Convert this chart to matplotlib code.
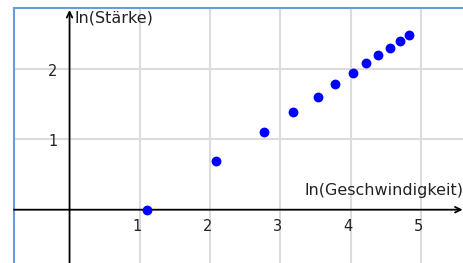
import matplotlib
matplotlib.use("Agg")
import matplotlib.pyplot as plt

# data (ln values)
ln_speed = [1.10, 2.08, 2.77, 3.18, 3.53, 3.78, 4.03, 4.21, 4.39, 4.56, 4.70, 4.83]
ln_strength = [0.00, 0.69, 1.10, 1.39, 1.61, 1.79, 1.95, 2.08, 2.20, 2.30, 2.40, 2.49]
x_ticks = [1, 2, 3, 4, 5]
y_ticks = [1, 2]
x_label = "ln(Geschwindigkeit)"
y_label = "ln(Stärke)"

W, H = 464, 263
fig = plt.figure(figsize=(W / 100, H / 100), dpi=100)
ax = fig.add_axes([14 / W, 0, 1 - 14 / W, 1 - 8 / H])
ax.set_xlim(-0.79, 5.61)
ax.set_ylim(-0.758, 2.869)

for s in ["right", "bottom"]:
    ax.spines[s].set_visible(False)
for s in ["left", "top"]:
    ax.spines[s].set_color("#6a9ad8")
    ax.spines[s].set_linewidth(1.5)
ax.set_xticks([])
ax.set_yticks([])

grid_c = "#dcdcdc"
for v in [1, 2, 3, 4, 5]:
    ax.axvline(v, color=grid_c, lw=1.5, zorder=0)
for v in [1, 2]:
    ax.axhline(v, color=grid_c, lw=1.5, zorder=0)

# axes with arrows
ax.annotate("", xy=(5.61, 0), xytext=(-0.79, 0),
            arrowprops=dict(arrowstyle="->", color="black", lw=1.3,
                            mutation_scale=10, shrinkA=0, shrinkB=1))
ax.annotate("", xy=(0, 2.86), xytext=(0, -0.758),
            arrowprops=dict(arrowstyle="->", color="black", lw=1.3,
                            mutation_scale=10, shrinkA=0, shrinkB=1))

for t in x_ticks:
    ax.text(t - 0.04, -0.13, str(t), ha="center", va="top", fontsize=10.5, color="#222222")
for t in y_ticks:
    ax.text(-0.17, t - 0.03, str(t), ha="right", va="center", fontsize=10.5, color="#222222")

ax.text(0.07, 2.72, y_label, ha="left", va="center", fontsize=11.5, color="#222222")
ax.text(5.6, 0.17, x_label, ha="right", va="bottom", fontsize=11.5, color="#222222")

ax.scatter(ln_speed, ln_strength, s=50, color="#0000ff", zorder=5, linewidths=0)

fig.savefig("out.png", dpi=100)
